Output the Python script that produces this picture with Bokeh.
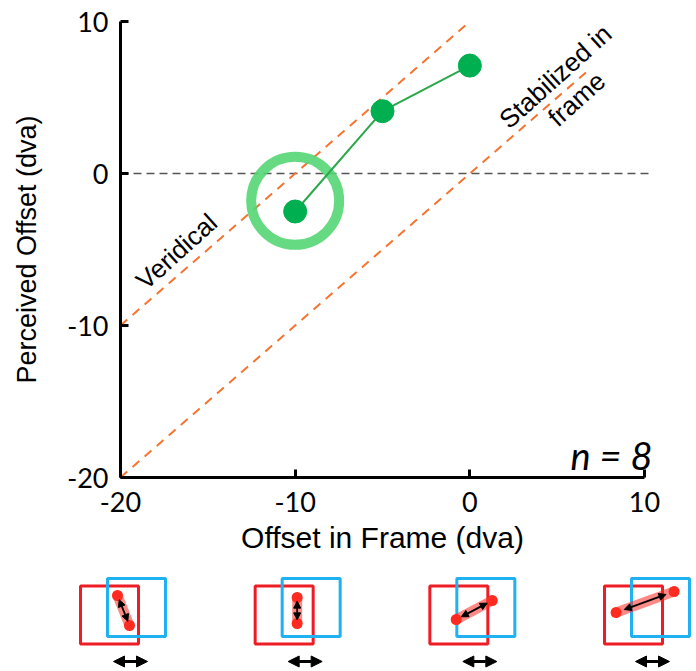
import numpy as np
from bokeh.plotting import figure
from bokeh.models import Range1d, Arrow, NormalHead, FixedTicker
from bokeh.core.properties import value
from bokeh.embed import file_html
from bokeh.resources import INLINE

# ---------------- data ----------------
offset_in_frame = [-10, -5, 0]
perceived_offset = [-2.5, 4.1, 7.1]
highlight_x = [-10]
highlight_y = [-1.8]
veridical_x = [-20, 0]
veridical_y = [-10, 10]
stabilized_x = [-20, 6.8]
stabilized_y = [-20, 6.8]
zero_x = [-20, 10.5]
zero_y = [0, 0]
tick_values = [-20, -10, 0, 10]
tick_labels = ["-20", "-10", "0", "10"]
x_title = "Offset in Frame (dva)"
y_title = "Perceived Offset (dva)"
n_text = "n = 8"

# icon illustrations below the axis: one per x tick (pixel offsets from the tick)
icon_ticks = [-20, -10, 0, 10]
red_dx, red_y = -11, 614.5
blue_dx, blue_y = 16, 607
square_px = 58
stroke_start = [(-3, 595), (2, 597), (-13.6, 619), (-28.4, 612)]
stroke_end = [(9, 625), (2, 623), (22.4, 600), (29.6, 591)]
arrow_dx = [10, 10, 10, 8]
arrow_y, arrow_half = 661, 17

# ---------------- geometry (frame = whole canvas) ----------------
W, H = 696, 671
PX_L, PX_R = 120, 644      # pixel columns of x=-20 and x=10
PY_T, PY_B = 21, 477       # pixel rows of y=10 and y=-20
PPX = (PX_R - PX_L) / 30.0
PPY = (PY_B - PY_T) / 30.0
x_range = Range1d(-20 - PX_L / PPX, -20 + (W - PX_L) / PPX)
y_range = Range1d(10 - (H - PY_T) / PPY, 10 + PY_T / PPY)


def dx(px):
    return px / PPX


def ypx(py):
    return 10 - (py - PY_T) / PPY


TICK_FONT = "Lato"
ANN_FONT = "Liberation Sans"
ORANGE = "#f47430"
GREEN = "#00b050"

p = figure(width=W, height=H, x_range=x_range, y_range=y_range,
           output_backend="svg", toolbar_location=None,
           min_border_left=0, min_border_right=0, min_border_top=0,
           min_border_bottom=0)
p.outline_line_color = None
p.grid.visible = False
p.background_fill_color = "white"
p.border_fill_color = "white"

for ax in (p.xaxis[0], p.yaxis[0]):
    ax.fixed_location = -20
    ax.ticker = FixedTicker(ticks=tick_values)
    ax.major_label_overrides = {v: l for v, l in zip(tick_values, tick_labels)}
    ax.bounds = (-20, 10)
    ax.axis_line_width = 3
    ax.axis_line_color = "black"
    ax.major_tick_line_width = 3
    ax.major_tick_line_color = "black"
    ax.major_tick_in = 8
    ax.major_tick_out = 0
    ax.minor_tick_line_color = None
    ax.major_label_text_font = TICK_FONT
    ax.major_label_text_font_size = "27px"
    ax.major_label_text_color = "black"
    ax.axis_label_text_font = ANN_FONT
    ax.axis_label_text_font_style = "normal"
    ax.axis_label_text_color = "black"

p.xaxis.axis_label = x_title
p.yaxis.axis_label = y_title
p.xaxis.axis_label_text_font_size = "30px"
p.yaxis.axis_label_text_font_size = "27px"
p.xaxis.major_label_standoff = 14
p.yaxis.major_label_standoff = 12
p.xaxis.axis_label_standoff = 6
p.yaxis.axis_label_standoff = 22

# reference lines
p.line(zero_x, zero_y, line_color="#555555", line_width=1.5, line_dash="8 5")
p.line(veridical_x, veridical_y, line_color=ORANGE, line_width=2, line_dash="9 7")
p.line(stabilized_x, stabilized_y, line_color=ORANGE, line_width=2, line_dash="9 7")

# highlight ring
p.scatter(highlight_x, highlight_y, size=88, fill_color=None,
          line_color="#55d676", line_width=10, line_alpha=0.9)

# data
p.line(offset_in_frame, perceived_offset, line_color="#2aa84a", line_width=2)
p.scatter(offset_in_frame, perceived_offset, size=23, fill_color=GREEN,
          line_color=GREEN)

ang = np.deg2rad(42)
for tx, ty, tt in [(-16.79, -5.13, "Veridical"), (4.90, 6.38, "Stabilized in"),
                   (6.11, 4.90, "frame")]:
    p.text([tx], [ty], text=[tt], angle=ang, text_align="center",
           text_baseline="middle", text_font=value(ANN_FONT),
           text_font_size="26px", text_color="black")
p.text([10.46], [-18.55], text=[n_text], text_align="right",
       text_baseline="alphabetic", text_font=value(TICK_FONT),
       text_font_style="italic", text_font_size="38px", text_color="black")

# ---------------- icons ----------------
cx = list(icon_ticks)
p.rect([c + dx(red_dx) for c in cx], [ypx(red_y)] * 4, width=square_px, height=square_px,
       width_units="screen", height_units="screen", fill_color=None,
       line_color="#ee1c24", line_width=3)
p.rect([c + dx(blue_dx) for c in cx], [ypx(blue_y)] * 4, width=square_px, height=square_px,
       width_units="screen", height_units="screen", fill_color=None,
       line_color="#1fb1f0", line_width=3)

x0s = [c + dx(s[0]) for c, s in zip(cx, stroke_start)]
y0s = [ypx(s[1]) for s in stroke_start]
x1s = [c + dx(e[0]) for c, e in zip(cx, stroke_end)]
y1s = [ypx(e[1]) for e in stroke_end]
p.segment(x0s, y0s, x1s, y1s, line_color="#ff2a20", line_width=10,
          line_alpha=0.55, line_cap="round")
p.scatter(x0s + x1s, y0s + y1s, size=11, fill_color="#ff2a20", line_color=None)

for a, b, c, d in zip(x0s, y0s, x1s, y1s):
    mx, my = (a + c) / 2, (b + d) / 2
    hx, hy = (c - a) / 2 * 0.72, (d - b) / 2 * 0.72
    p.add_layout(Arrow(x_start=mx - hx, y_start=my - hy, x_end=mx + hx, y_end=my + hy,
                       line_width=1.8, line_color="black",
                       start=NormalHead(size=7, fill_color="black", line_color="black"),
                       end=NormalHead(size=7, fill_color="black", line_color="black")))

for c, adx in zip(cx, arrow_dx):
    p.add_layout(Arrow(x_start=c + dx(adx - arrow_half), y_start=ypx(arrow_y),
                       x_end=c + dx(adx + arrow_half), y_end=ypx(arrow_y),
                       line_width=3, line_color="black",
                       start=NormalHead(size=11, fill_color="black", line_color="black"),
                       end=NormalHead(size=11, fill_color="black", line_color="black")))

open("out.html", "w").write(file_html(p, INLINE))
